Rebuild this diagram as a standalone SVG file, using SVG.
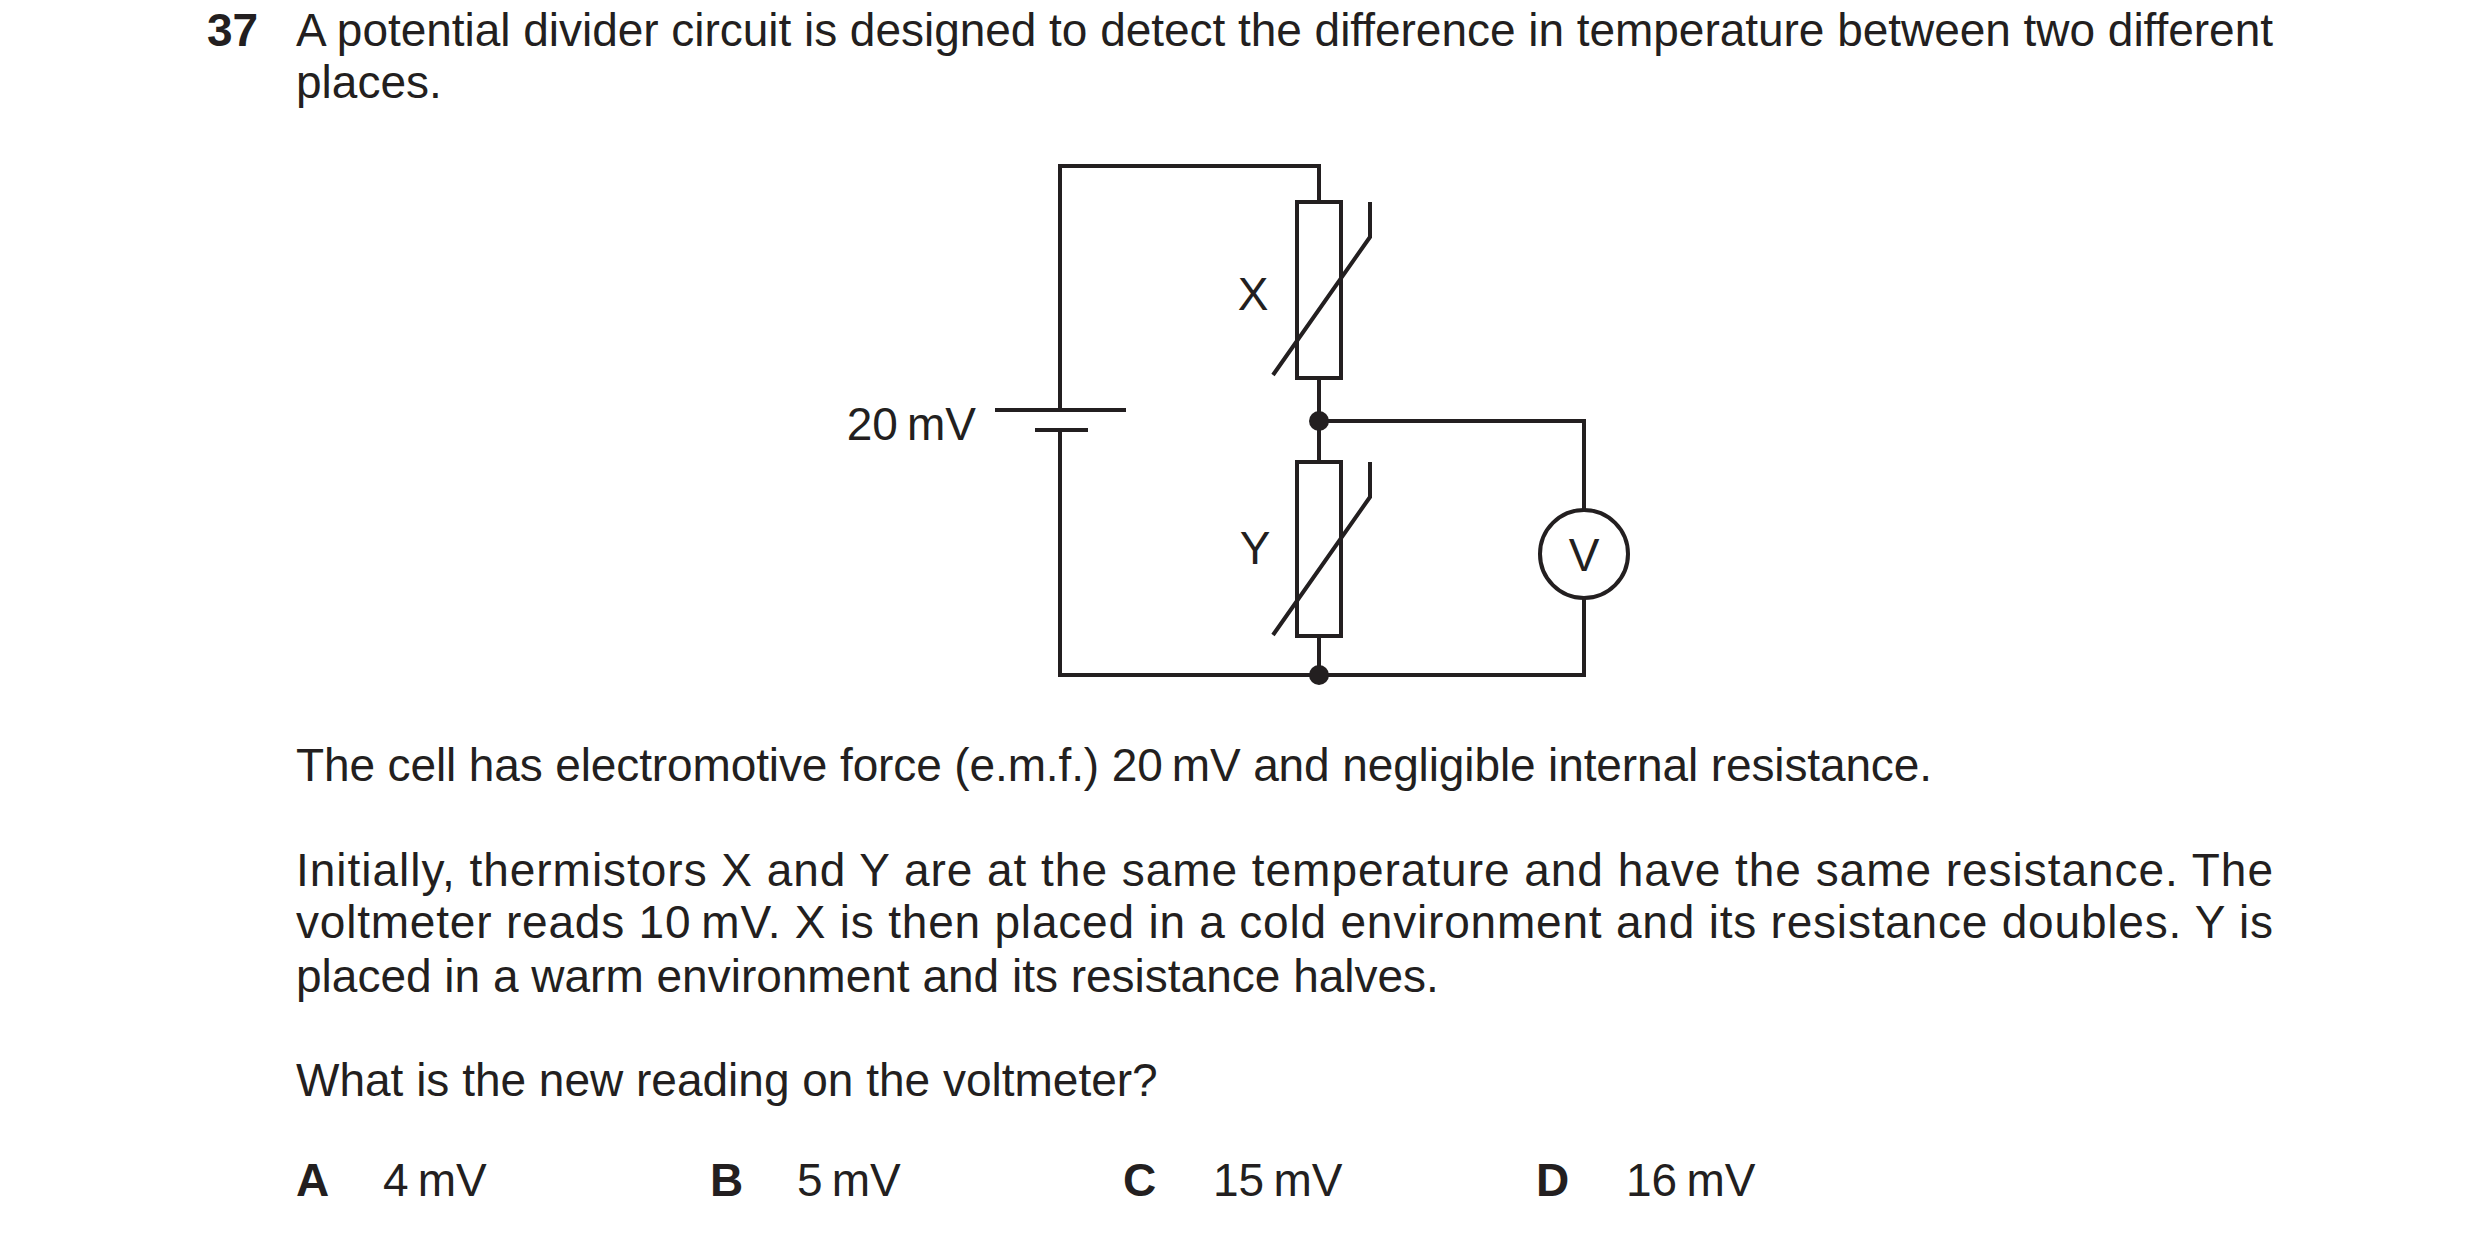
<svg xmlns="http://www.w3.org/2000/svg" width="2480" height="1237" viewBox="0 0 2480 1237">
<style>
text{font-family:"Liberation Sans",Arial,sans-serif;font-size:46px;fill:#231f20}
.b{font-weight:bold}
.w{fill:none;stroke:#231f20;stroke-width:4}
</style>
<rect width="2480" height="1237" fill="#fff"/>
<text x="207" y="46" class="b">37</text>
<text x="296" y="46" textLength="1977" lengthAdjust="spacing">A potential divider circuit is designed to detect the difference in temperature between two different</text>
<text x="296" y="98">places.</text>
<g id="connectors" class="w">
<polyline points="1060,410 1060,166 1319,166 1319,202"/>
<line x1="1319" y1="378" x2="1319" y2="462"/>
<polyline points="1060,430 1060,675 1584,675 1584,598"/>
<polyline points="1319,636 1319,675"/>
<polyline points="1319,421 1584,421 1584,510"/>
</g>
<g id="cell">
<line x1="995" y1="410" x2="1126" y2="410" class="w"/>
<line x1="1035" y1="430" x2="1088" y2="430" class="w"/>
<text x="976" y="440" text-anchor="end">20&#8201;mV</text>
</g>
<g id="X">
<rect x="1297" y="202" width="44" height="176" class="w"/>
<polyline points="1273,375 1370,237 1370,202" class="w"/>
<text x="1253" y="310" text-anchor="middle">X</text>
</g>
<g id="Y">
<rect x="1297" y="462" width="44" height="174" class="w"/>
<polyline points="1273,635 1370,497 1370,462" class="w"/>
<text x="1255" y="564" text-anchor="middle">Y</text>
</g>
<g id="voltmeter">
<circle cx="1584" cy="554" r="44" class="w"/>
<text x="1584" y="571" text-anchor="middle">V</text>
</g>
<g id="junctions" fill="#231f20">
<circle cx="1319" cy="421" r="10"/>
<circle cx="1319" cy="675" r="10"/>
</g>
<text x="296" y="781" textLength="1636" lengthAdjust="spacing">The cell has electromotive force (e.m.f.) 20&#8201;mV and negligible internal resistance.</text>
<text x="296" y="886" textLength="1977" lengthAdjust="spacing">Initially, thermistors X and Y are at the same temperature and have the same resistance. The</text>
<text x="296" y="938" textLength="1977" lengthAdjust="spacing">voltmeter reads 10&#8201;mV. X is then placed in a cold environment and its resistance doubles. Y is</text>
<text x="296" y="992">placed in a warm environment and its resistance halves.</text>
<text x="296" y="1096">What is the new reading on the voltmeter?</text>
<text x="296" y="1196" class="b">A</text><text x="383" y="1196">4&#8201;mV</text>
<text x="710" y="1196" class="b">B</text><text x="797" y="1196">5&#8201;mV</text>
<text x="1123" y="1196" class="b">C</text><text x="1213" y="1196">15&#8201;mV</text>
<text x="1536" y="1196" class="b">D</text><text x="1626" y="1196">16&#8201;mV</text>
</svg>
